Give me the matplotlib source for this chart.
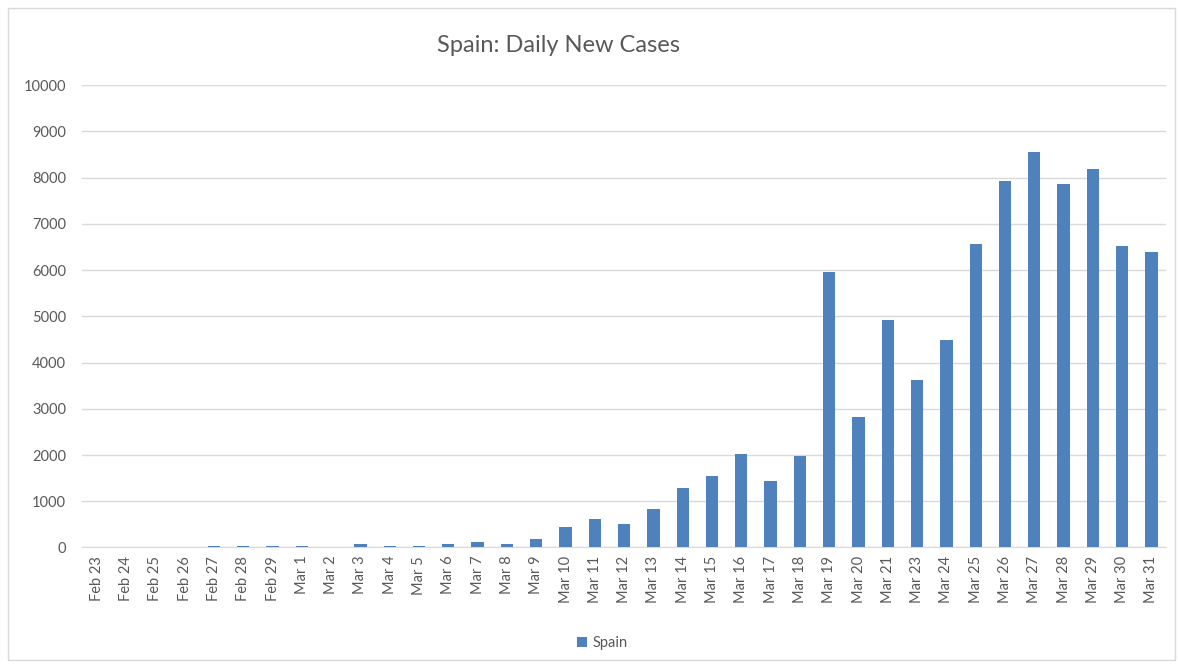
import matplotlib.pyplot as plt
from matplotlib.patches import Rectangle

# daily new cases (note: no Mar 22 in the source)
dates = ["Feb 23", "Feb 24", "Feb 25", "Feb 26", "Feb 27", "Feb 28", "Feb 29",
         "Mar 1", "Mar 2", "Mar 3", "Mar 4", "Mar 5", "Mar 6", "Mar 7", "Mar 8",
         "Mar 9", "Mar 10", "Mar 11", "Mar 12", "Mar 13", "Mar 14", "Mar 15",
         "Mar 16", "Mar 17", "Mar 18", "Mar 19", "Mar 20", "Mar 21", "Mar 23",
         "Mar 24", "Mar 25", "Mar 26", "Mar 27", "Mar 28", "Mar 29", "Mar 30",
         "Mar 31"]
cases = [0, 0, 0, 0, 35, 35, 35,
         35, 0, 80, 40, 40, 70, 110, 75,
         175, 443, 617, 509, 841, 1283, 1543,
         2015, 1443, 1987, 5960, 2820, 4929, 3630,
         4495, 6558, 7929, 8557, 7872, 8189, 6522,
         6392]
yticks = list(range(0, 10001, 1000))

text_col = '#595959'
bar_col = '#4f81bd'
grid_col = '#d9d9d9'

plt.rcParams['font.family'] = ['Lato', 'DejaVu Sans']

fig = plt.figure(figsize=(11.79, 6.66), dpi=100)
ax = fig.add_axes([0.0696, 0.178, 0.9195, 0.694])

x = list(range(len(dates)))
ax.bar(x, cases, width=0.42, color=bar_col, label='Spain', zorder=3)

ax.set_xlim(-0.5, len(dates) - 0.5)
ax.set_ylim(0, 10000)
ax.set_yticks(yticks)
ax.set_yticklabels([str(v) for v in yticks], color=text_col, fontsize=10.5)
ax.set_xticks(x)
ax.set_xticklabels(dates, rotation=90, color=text_col, fontsize=10.5)
ax.tick_params(axis='x', length=0, pad=6)
ax.tick_params(axis='y', length=0, pad=11.5)

ax.grid(axis='y', color=grid_col, linewidth=1, zorder=0)
for side in ['top', 'right', 'left']:
    ax.spines[side].set_visible(False)
ax.spines['bottom'].set_color(grid_col)

fig.suptitle("Spain: Daily New Cases", x=0.474, y=0.947, fontsize=17,
             color=text_col)

leg = fig.legend(loc='center', bbox_to_anchor=(0.511, 0.034), frameon=False,
                 fontsize=10.5, handlelength=0.7, handleheight=0.7,
                 handletextpad=0.4)
for t in leg.get_texts():
    t.set_color(text_col)

# light frame round the whole chart
fig.patches.append(Rectangle((0.007, 0.009), 0.99, 0.979, transform=fig.transFigure,
                             fill=False, edgecolor=grid_col, linewidth=1))

fig.savefig("out.png", dpi=100)
